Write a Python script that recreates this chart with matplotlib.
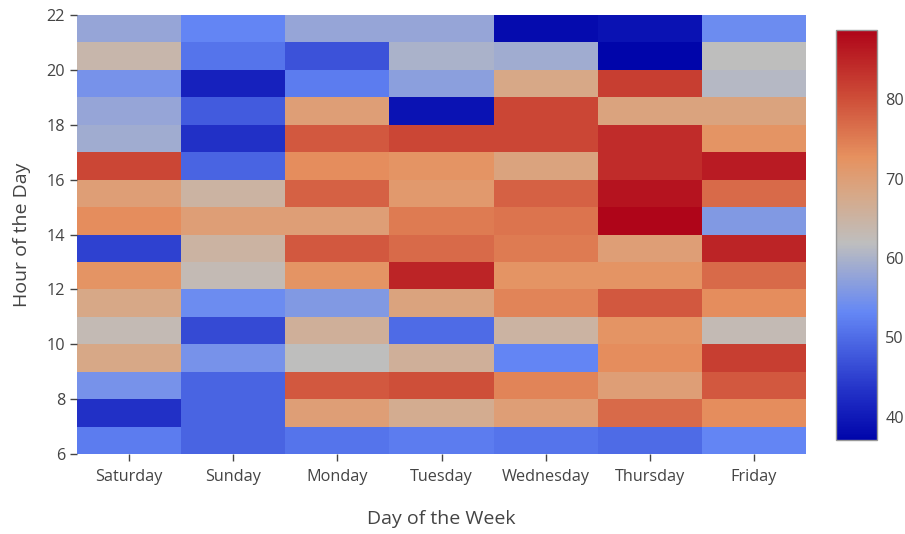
import numpy as np
import matplotlib
matplotlib.use("Agg")
import matplotlib.pyplot as plt
from matplotlib.colors import LinearSegmentedColormap

plt.rcParams['font.family'] = ['Open Sans', 'DejaVu Sans']

days = ["Saturday", "Sunday", "Monday", "Tuesday", "Wednesday", "Thursday", "Friday"]
hours = list(range(6, 22))  # each row covers hour h .. h+1

# values per hour (rows, 6 -> 21), columns Saturday .. Friday
h06 = [52, 49, 51, 52, 51, 50, 53]
h07 = [43, 49, 70, 67, 70, 77, 73]
h08 = [55, 49, 79, 80, 74, 70, 79]
h09 = [68, 55, 62, 66, 53, 73, 82]
h10 = [63, 46, 66, 50, 65, 72, 63]
h11 = [68, 54, 56, 69, 74, 79, 73]
h12 = [72, 63, 72, 85, 72, 72, 77]
h13 = [45, 65, 79, 77, 75, 70, 85]
h14 = [73, 70, 70, 75, 76, 88.7, 56]
h15 = [70, 65, 78, 71, 78, 87, 77]
h16 = [81, 49, 73, 72, 69, 84, 86]
h17 = [59, 43, 79, 81, 81, 84, 72]
h18 = [58, 48, 70, 39, 81, 69, 69]
h19 = [55, 41, 52, 57, 68, 82, 61]
h20 = [64, 51, 47, 60, 59, 37.1, 62]
h21 = [58, 53, 58, 58, 38, 39, 54]

z = np.array([h06, h07, h08, h09, h10, h11, h12, h13, h14, h15,
              h16, h17, h18, h19, h20, h21])

# colour scale
cmap = LinearSegmentedColormap.from_list("custom", [
    (0.00, (0/255, 5/255, 170/255)),
    (0.12, (35/255, 50/255, 200/255)),
    (0.31, (100/255, 135/255, 245/255)),
    (0.48, (190/255, 190/255, 190/255)),
    (0.60, (215/255, 168/255, 135/255)),
    (0.69, (230/255, 145/255, 95/255)),
    (0.84, (205/255, 75/255, 55/255)),
    (1.00, (175/255, 5/255, 25/255)),
])

fig = plt.figure(figsize=(9.05, 5.34), dpi=100)
ax = fig.add_axes([0.0851, 0.1498, 0.8055, 0.8221])
cax = fig.add_axes([0.9238, 0.176, 0.0453, 0.768])

x_edges = np.arange(len(days) + 1) - 0.5
y_edges = np.arange(6, 23)
mesh = ax.pcolormesh(x_edges, y_edges, z, cmap=cmap, vmin=z.min(), vmax=z.max())

ax.set_xlim(-0.5, len(days) - 0.5)
ax.set_ylim(6, 22)
ax.set_xticks(range(len(days)))
ax.set_xticklabels(days)
ax.set_yticks(range(6, 23, 2))
for s in ax.spines.values():
    s.set_visible(False)
ax.tick_params(axis='both', colors='#444444', labelsize=11.7, length=5, width=1)
ax.tick_params(axis='x', pad=6)
ax.set_xlabel("Day of the Week", fontsize=14, color='#444444', labelpad=18)
ax.set_ylabel("Hour of the Day", fontsize=14, color='#444444', labelpad=11)

cb = fig.colorbar(mesh, cax=cax)
cb.set_ticks([40, 50, 60, 70, 80])
cb.outline.set_edgecolor('#999999')
cb.outline.set_linewidth(1)
cax.tick_params(colors='#444444', labelsize=11.7, length=0, pad=6)

fig.savefig("out.png", dpi=100)
